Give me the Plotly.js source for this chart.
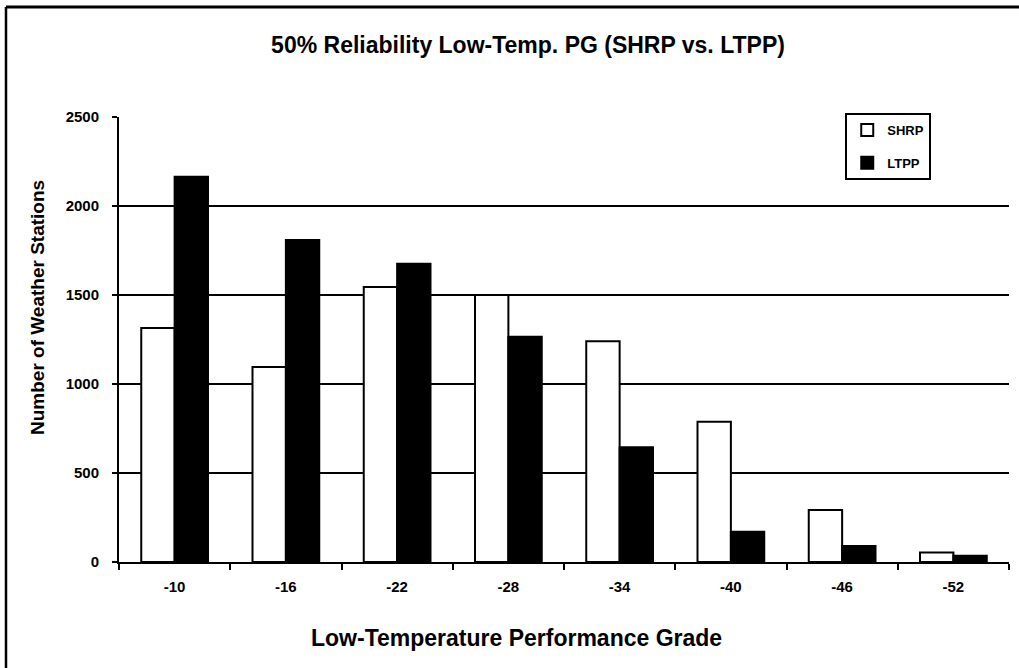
<!DOCTYPE html>
<html>
<head>
<meta charset="utf-8">
<script src="https://cdn.plot.ly/plotly-3.0.1.min.js"></script>
<style>
  html, body { margin: 0; padding: 0; background: #ffffff; }
  #chart { width: 1019px; height: 668px; }
</style>
</head>
<body>
<div id="chart"></div>
<script>
const grades = ['-10', '-16', '-22', '-28', '-34', '-40', '-46', '-52'];
const shrpCounts = [1315, 1095, 1545, 1500, 1240, 788, 292, 54];
const ltppCounts = [2165, 1809, 1676, 1265, 644, 170, 90, 35];
const yTickVals = [0, 500, 1000, 1500, 2000, 2500];
const yTickText = ['0', '500', '1000', '1500', '2000', '2500'];
const gridVals = [500, 1000, 1500, 2000];

const FONT = '"Liberation Sans", Arial, Helvetica, sans-serif';

const traces = [
  {
    type: 'bar', name: 'SHRP', x: grades, y: shrpCounts,
    marker: { color: '#ffffff', line: { color: '#000000', width: 2 } },
    legendgroup: 'a'
  },
  {
    type: 'bar', name: 'LTPP', x: grades, y: ltppCounts,
    marker: { color: '#000000', line: { color: '#000000', width: 2 } },
    legendgroup: 'b'
  }
];

const layout = {
  width: 1019, height: 668,
  paper_bgcolor: '#ffffff', plot_bgcolor: '#ffffff',
  margin: { l: 119, r: 10, t: 117, b: 106 },
  font: { family: FONT, color: '#000000' },
  title: {
    text: '<b>50% Reliability Low-Temp. PG (SHRP vs. LTPP)</b>',
    font: { family: FONT, size: 23, color: '#000000' },
    x: 528 / 1019, xanchor: 'center',
    y: 1 - 45 / 668, yanchor: 'middle'
  },
  barmode: 'group', bargap: 0.4, bargroupgap: 0,
  showlegend: true,
  legend: {
    x: 0.816, xanchor: 'left', y: 1.009, yanchor: 'top',
    bordercolor: '#000000', borderwidth: 2, bgcolor: '#ffffff',
    font: { family: FONT, size: 13, color: '#000000', weight: 'bold' },
    traceorder: 'grouped', tracegroupgap: 13
  },
  xaxis: {
    type: 'category',
    showline: true, linecolor: '#000000', linewidth: 2,
    ticks: 'outside', tickson: 'boundaries', ticklen: 6, tickwidth: 2, tickcolor: '#000000',
    tickfont: { family: FONT, size: 15, color: '#000000', weight: 'bold' },
    ticklabelstandoff: 10,
    showgrid: false, zeroline: false, fixedrange: true
  },
  yaxis: {
    range: [0, 2500],
    tickvals: yTickVals, ticktext: yTickText,
    showline: true, linecolor: '#000000', linewidth: 2,
    ticks: 'outside', ticklen: 5, tickwidth: 2, tickcolor: '#000000',
    tickfont: { family: FONT, size: 15, color: '#000000', weight: 'bold' },
    ticklabelstandoff: 10,
    showgrid: false, zeroline: false, fixedrange: true
  },
  yaxis2: {
    overlaying: 'y', range: [0, 2500],
    tickvals: gridVals, showticklabels: false, ticks: '',
    showgrid: true, gridcolor: '#000000', gridwidth: 2,
    showline: false, zeroline: false, fixedrange: true
  },
  annotations: [
    {
      text: '<b>Number of Weather Stations</b>',
      xref: 'paper', yref: 'paper',
      x: (37 - 119) / 890, y: (562 - 308) / 445,
      xanchor: 'center', yanchor: 'middle', textangle: -90, showarrow: false,
      font: { family: FONT, size: 19, color: '#000000' }
    },
    {
      text: '<b>Low-Temperature Performance Grade</b>',
      xref: 'paper', yref: 'paper',
      x: (516 - 119) / 890, y: (562 - 638) / 445,
      xanchor: 'center', yanchor: 'middle', showarrow: false,
      font: { family: FONT, size: 23, color: '#000000' }
    }
  ],
  shapes: [
    { type: 'line', xref: 'paper', yref: 'paper',
      x0: (6 - 119) / 890, x1: (1019 - 119) / 890,
      y0: (562 - 7) / 445, y1: (562 - 7) / 445,
      line: { color: '#000000', width: 3 } },
    { type: 'line', xref: 'paper', yref: 'paper',
      x0: (6 - 119) / 890, x1: (6 - 119) / 890,
      y0: (562 - 7) / 445, y1: (562 - 668) / 445,
      line: { color: '#000000', width: 2.5 } }
  ]
};

// empty trace on yaxis2 so the overlay axis (gridlines only) is drawn
traces.push({
  type: 'scatter', x: [grades[0]], y: [null], yaxis: 'y2',
  showlegend: false, hoverinfo: 'skip', mode: 'markers'
});

Plotly.newPlot('chart', traces, layout, { staticPlot: true, displayModeBar: false });
</script>
</body>
</html>
